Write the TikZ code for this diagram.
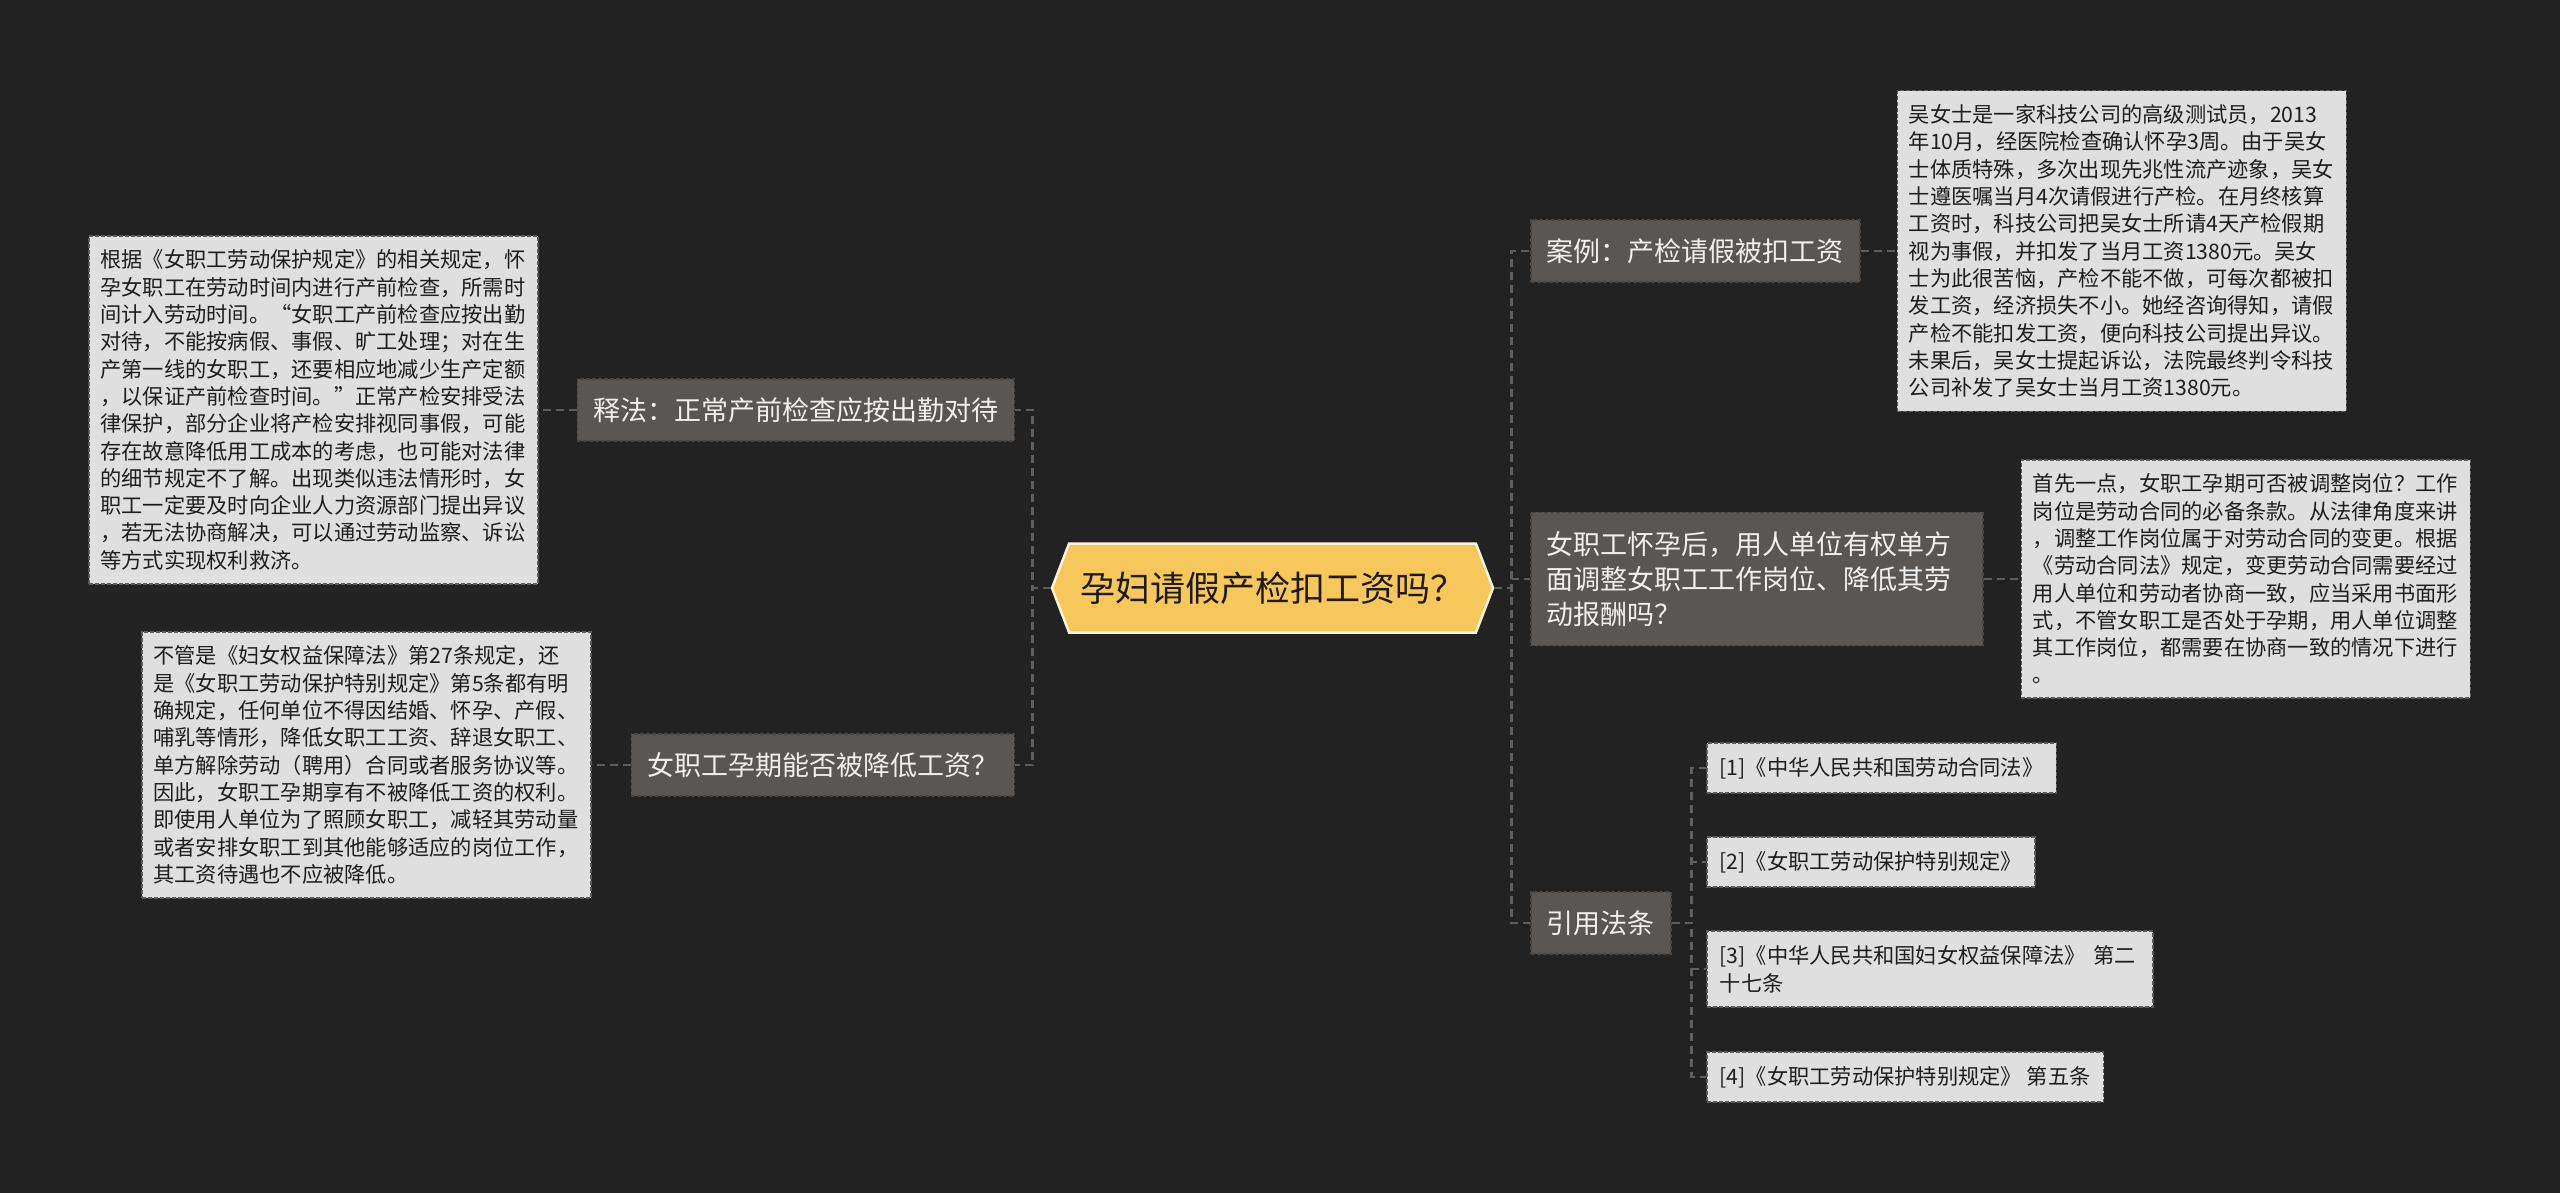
\documentclass[tikz,border=0pt]{standalone}
\usepackage{fontspec}
\setmainfont{Noto Sans CJK SC}
\usetikzlibrary{shapes.symbols, positioning}

\definecolor{canvas}{HTML}{222222}
\definecolor{rootfill}{HTML}{F6C75A}
\definecolor{rootline}{HTML}{FFF4D8}
\definecolor{roottext}{HTML}{1E1A12}
\definecolor{branchfill}{HTML}{5A5653}
\definecolor{branchline}{HTML}{464340}
\definecolor{leaffill}{HTML}{DFDFDF}
\definecolor{leafline}{HTML}{5C5C5C}
\definecolor{leaftext}{HTML}{1E1E1E}
\definecolor{linkcol}{HTML}{5E5E5E}

\begin{document}
\begin{tikzpicture}[
    x=1pt, y=-1pt,
    root/.style = {signal, signal to=east and west, signal pointer angle=138, draw=rootline, line width=2.5pt, fill=rootfill, text=roottext, minimum width=441pt, minimum height=89pt, inner xsep=10pt, font=\fontsize{35}{42}\selectfont},
    branch/.style = {rectangle, draw=branchline, fill=branchfill, text=white!94!black, dash pattern=on 4pt off 2pt, line width=1.5pt, inner xsep=16pt, inner ysep=18.5pt, align=left, font=\fontsize{27}{35}\selectfont},
    leaf/.style = {rectangle, draw=leafline, fill=leaffill, text=leaftext, dash pattern=on 4pt off 2pt, line width=1.5pt, inner xsep=11.5pt, inner ysep=14pt, align=left, text width=426pt, font=\fontsize{21.25}{27.3}\selectfont},
    source/.style = {rectangle, draw=leafline, fill=leaffill, text=leaftext, dash pattern=on 4pt off 2pt, line width=1.5pt, inner xsep=13pt, inner ysep=14pt, align=left, font=\fontsize{21.25}{28}\selectfont},
    link/.style = {draw=linkcol, line width=2.5pt, dash pattern=on 8pt off 5pt}]

\fill[canvas] (0,0) rectangle (2560,1193);
\useasboundingbox (0,0) rectangle (2560,1193);

\node[root] (A) at (1272.5,588) {孕妇请假产检扣工资吗？};

\node[branch, anchor=east] (B) at (1015,410) {释法：正常产前检查应按出勤对待};
\node[leaf, left=38pt of B] (C) {根据《女职工劳动保护规定》的相关规定，怀\\孕女职工在劳动时间内进行产前检查，所需时\\间计入劳动时间。“女职工产前检查应按出勤\\对待，不能按病假、事假、旷工处理；对在生\\产第一线的女职工，还要相应地减少生产定额\\，以保证产前检查时间。”正常产检安排受法\\律保护，部分企业将产检安排视同事假，可能\\存在故意降低用工成本的考虑，也可能对法律\\的细节规定不了解。出现类似违法情形时，女\\职工一定要及时向企业人力资源部门提出异议\\，若无法协商解决，可以通过劳动监察、诉讼\\等方式实现权利救济。};
\node[branch, anchor=east] (D) at (1015,765) {女职工孕期能否被降低工资？};
\node[leaf, left=39pt of D] (E) {不管是《妇女权益保障法》第27条规定，还\\是《女职工劳动保护特别规定》第5条都有明\\确规定，任何单位不得因结婚、怀孕、产假、\\哺乳等情形，降低女职工工资、辞退女职工、\\单方解除劳动（聘用）合同或者服务协议等。\\因此，女职工孕期享有不被降低工资的权利。\\即使用人单位为了照顾女职工，减轻其劳动量\\或者安排女职工到其他能够适应的岗位工作，\\其工资待遇也不应被降低。};

\node[branch, anchor=west] (F) at (1530,251) {案例：产检请假被扣工资};
\node[leaf, right=36pt of F] (G) {吴女士是一家科技公司的高级测试员，2013\\年10月，经医院检查确认怀孕3周。由于吴女\\士体质特殊，多次出现先兆性流产迹象，吴女\\士遵医嘱当月4次请假进行产检。在月终核算\\工资时，科技公司把吴女士所请4天产检假期\\视为事假，并扣发了当月工资1380元。吴女\\士为此很苦恼，产检不能不做，可每次都被扣\\发工资，经济损失不小。她经咨询得知，请假\\产检不能扣发工资，便向科技公司提出异议。\\未果后，吴女士提起诉讼，法院最终判令科技\\公司补发了吴女士当月工资1380元。};
\node[branch, anchor=west, text width=420pt, inner ysep=19pt] (H) at (1530,579) {女职工怀孕后，用人单位有权单方\\面调整女职工工作岗位、降低其劳\\动报酬吗？};
\node[leaf, right=37pt of H] (I) {首先一点，女职工孕期可否被调整岗位？工作\\岗位是劳动合同的必备条款。从法律角度来讲\\，调整工作岗位属于对劳动合同的变更。根据\\《劳动合同法》规定，变更劳动合同需要经过\\用人单位和劳动者协商一致，应当采用书面形\\式，不管女职工是否处于孕期，用人单位调整\\其工作岗位，都需要在协商一致的情况下进行\\。};
\node[branch, anchor=west] (J) at (1530,923) {引用法条};
\node[source, anchor=west] (K) at (1706,768) {[1]《中华人民共和国劳动合同法》};
\node[source, anchor=west] (L) at (1706,862) {[2]《女职工劳动保护特别规定》};
\node[source, anchor=west, text width=420pt] (M) at (1706,969) {[3]《中华人民共和国妇女权益保障法》 第二\\十七条};
\node[source, anchor=west] (N) at (1706,1077) {[4]《女职工劳动保护特别规定》 第五条};

%connectors
\draw[link] (A.west) -- ++(-18,0) |- (B.east);
\draw[link] (A.west) -- ++(-18,0) |- (D.east);
\draw[link] (B.west) -- (C.east);
\draw[link] (D.west) -- (E.east);
\draw[link] (A.east) -- ++(17,0) |- (F.west);
\draw[link] (A.east) -- ++(17,0) |- (H.west);
\draw[link] (A.east) -- ++(17,0) |- (J.west);
\draw[link] (F.east) -- (G.west);
\draw[link] (H.east) -- (I.west);
\draw[link] (J.east) -- ++(20,0) |- (K.west);
\draw[link] (J.east) -- ++(20,0) |- (L.west);
\draw[link] (J.east) -- ++(20,0) |- (M.west);
\draw[link] (J.east) -- ++(20,0) |- (N.west);
\end{tikzpicture}
\end{document}
